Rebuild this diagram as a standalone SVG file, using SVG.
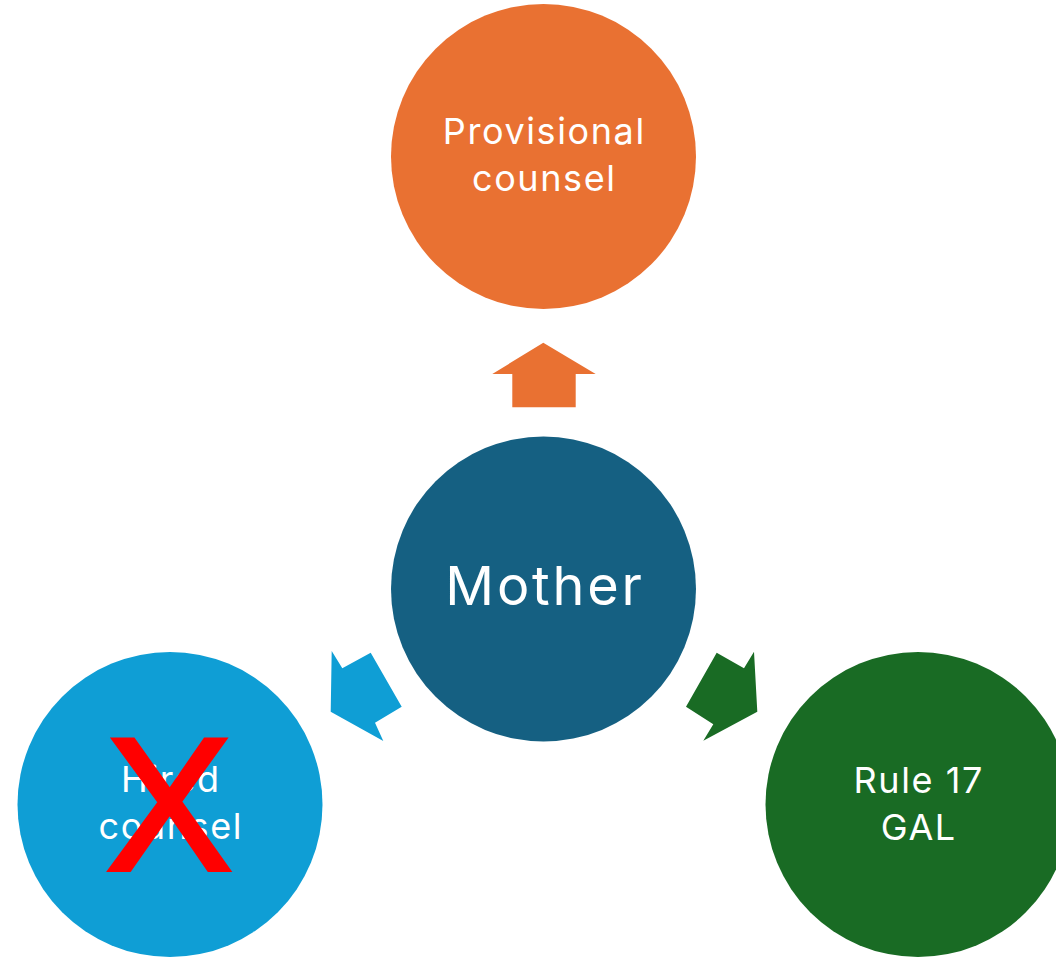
<svg xmlns="http://www.w3.org/2000/svg" width="1056" height="957" viewBox="0 0 1056 957">
<style>
.lbl{font-family:Inter,"Open Sans","Liberation Sans",sans-serif;fill:#ffffff;text-anchor:middle;font-size:36px;letter-spacing:1.6px}
.big{font-size:54px;letter-spacing:2.8px}
</style>
<rect width="1056" height="957" fill="#ffffff"/>
<g id="connectors">
<polygon points="543.3,342.7 595.7,374 575.7,374 575.7,407.3 512.3,407.3 512.3,374 492.3,374" fill="#E97132"/>
<polygon points="330.7,711.7 331.7,651 342.3,668.3 370.7,652.7 401.7,706.7 375,722.7 383.3,741" fill="#0F9ED5"/>
<polygon points="757.3,711.7 754,651.7 744,668.3 716.7,652.7 686,706.7 713.3,724.3 703.3,740.7" fill="#196B24"/>
</g>
<g id="provisional">
<circle cx="543.5" cy="156.5" r="152.5" fill="#E97132"/>
<text class="lbl" x="544.3" y="144.3">Provisional</text>
<text class="lbl" x="544.3" y="191">counsel</text>
</g>
<g id="mother">
<circle cx="543.5" cy="589" r="152.5" fill="#156082"/>
<text class="lbl big" x="545" y="605">Mother</text>
</g>
<g id="hired">
<circle cx="170" cy="804.5" r="152.5" fill="#0F9ED5"/>
<text class="lbl" x="170.8" y="792">Hired</text>
<text class="lbl" x="170.8" y="838.5">counsel</text>
<text x="169" y="869.7" font-family="Liberation Sans,Arial,sans-serif" font-size="190" fill="#FF0000" stroke="#FF0000" stroke-width="4" text-anchor="middle">X</text>
</g>
<g id="rule17">
<circle cx="918" cy="804.5" r="152.5" fill="#196B24"/>
<text class="lbl" x="918.8" y="793.3">Rule 17</text>
<text class="lbl" x="918.8" y="840">GAL</text>
</g>
</svg>
